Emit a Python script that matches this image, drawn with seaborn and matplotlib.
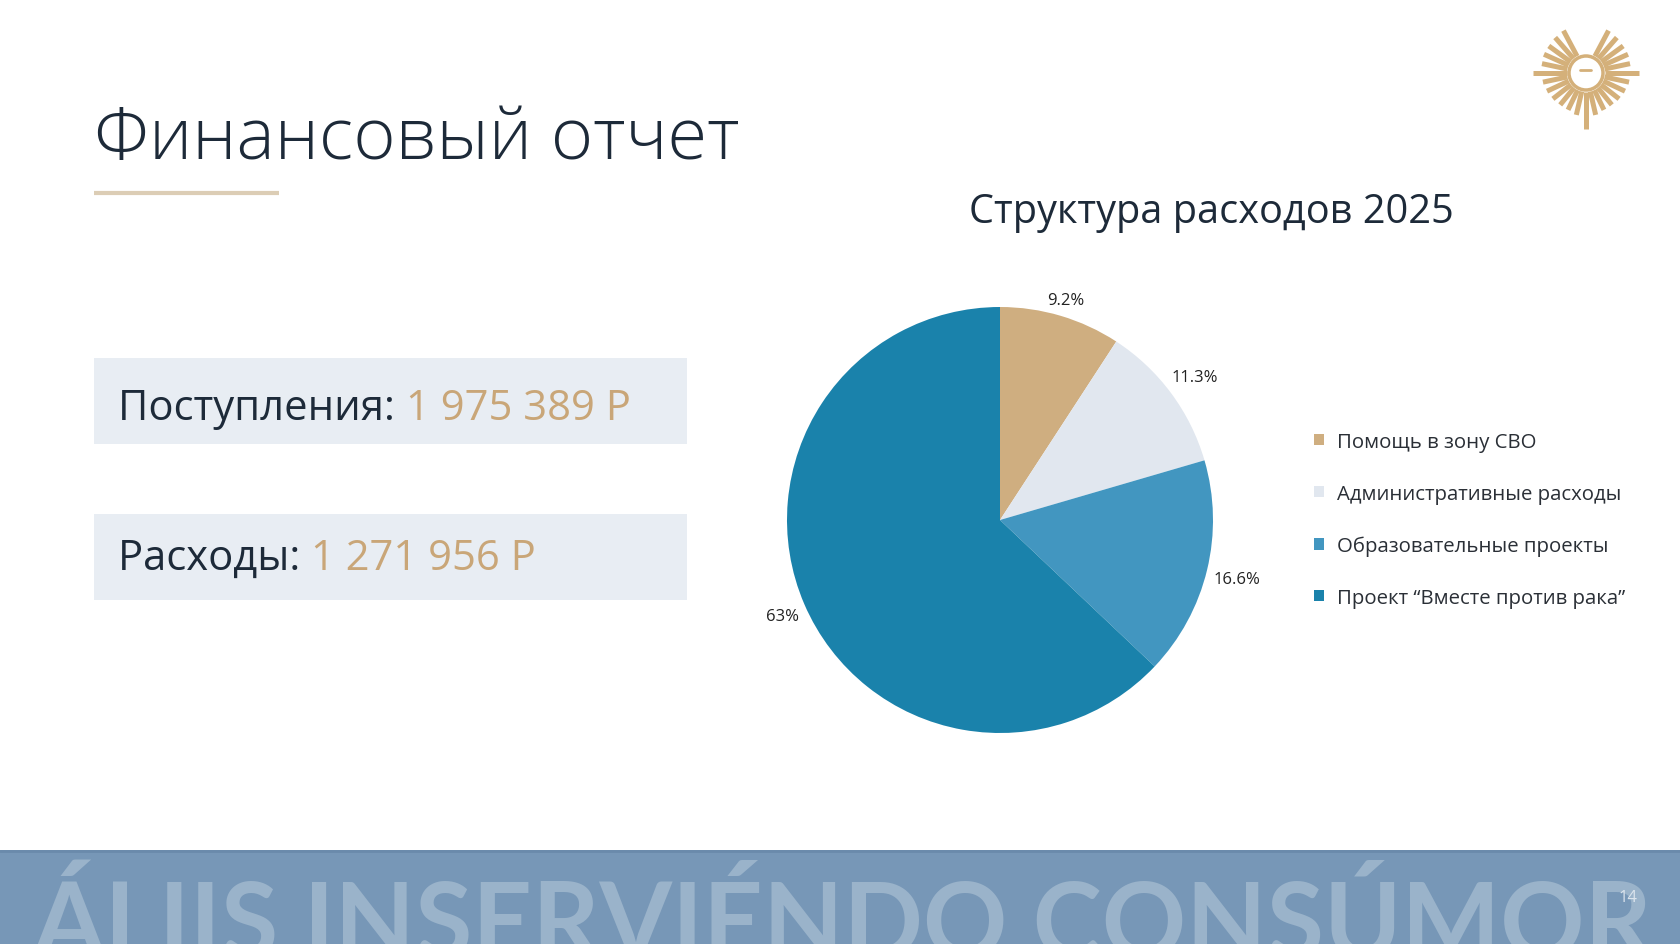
import numpy as np
import matplotlib
matplotlib.use('Agg')
import matplotlib.pyplot as plt
from matplotlib.patches import Rectangle, Patch, Circle
import seaborn as sns

# chart data
categories = ['Помощь в зону СВО', 'Административные расходы',
              'Образовательные проекты', 'Проект “Вместе против рака”']
shares = [9.2, 11.3, 16.6, 63.0]
share_labels = ['9.2%', '11.3%', '16.6%', '63%']
slice_colors = ['#cfae80', '#e1e7ef', '#4296c0', '#1a82ab']

income_label, income_value = 'Поступления:', '1 975 389 Р'
expense_label, expense_value = 'Расходы:', '1 271 956 Р'
page_title = 'Финансовый отчет'
chart_title = 'Структура расходов 2025'
motto = 'ÁLIIS INSERVIÉNDO CONSÚMOR'
page_number = '14'

W, H = 1680, 945
DARK = '#1d2a39'
GOLD = '#c9a678'

sns.set_theme(style='white')
plt.rcParams['font.family'] = ['Open Sans', 'DejaVu Sans']

fig = plt.figure(figsize=(W / 100, H / 100), dpi=100)
fig.patch.set_facecolor('white')

# full-page layer in pixel coords (y down)
bg = fig.add_axes([0, 0, 1, 1])
bg.set_xlim(0, W)
bg.set_ylim(H, 0)
bg.axis('off')

# heading + underline
bg.text(94, 159, page_title, fontsize=52, color=DARK, fontweight='light',
        va='baseline', ha='left')
bg.plot([94, 279], [194, 194], color='#dccdb5', lw=3, solid_capstyle='butt')


def put_pair(y, lab, val, size):
    a = bg.text(118, y, lab + ' ', fontsize=size, color=DARK, va='baseline',
                ha='left', fontstretch='semi-condensed')
    fig.canvas.draw()
    wa = a.get_window_extent().width
    b = bg.text(118 + wa, y, val, fontsize=size, color=GOLD, va='baseline',
                ha='left', fontstretch='semi-condensed')
    fig.canvas.draw()
    return a, b


# summary boxes (text fitted to the box width of the original)
bg.add_patch(Rectangle((94, 359), 593, 86, color='#e8edf3', lw=0))
bg.add_patch(Rectangle((94, 515), 593, 86, color='#e8edf3', lw=0))
a, b = put_pair(420, income_label, income_value, 36)
width = b.get_window_extent().x1 - a.get_window_extent().x0
size = 36 * 512 / width
a.remove()
b.remove()
put_pair(420, income_label, income_value, size)
put_pair(570, expense_label, expense_value, size)

# pie chart
R_PX = 213
ax = fig.add_axes([(1000 - 300) / W, (H - 521 - 300) / H, 600 / W, 600 / H])
wedges, texts = ax.pie(shares, labels=share_labels, colors=slice_colors,
                       startangle=90, counterclock=False, labeldistance=1.13,
                       wedgeprops=dict(linewidth=0),
                       textprops=dict(fontsize=12, color='#222222'))
ax.set_xlim(-300 / R_PX, 300 / R_PX)
ax.set_ylim(-300 / R_PX, 300 / R_PX)
ax.set_aspect('equal')
fig.canvas.draw()
gap = 6
for w, t in zip(wedges, texts):
    t.set_ha('center')
    t.set_va('center_baseline')
    mid = np.deg2rad((w.theta1 + w.theta2) / 2)
    bb = t.get_window_extent()
    d = R_PX + gap + abs(bb.width / 2 * np.cos(mid)) + abs(bb.height / 2 * np.sin(mid))
    t.set_position((d / R_PX * np.cos(mid), d / R_PX * np.sin(mid)))

bg.text(1211, 223, chart_title, fontsize=28.6, color=DARK, ha='center',
        va='baseline')

handles = [Patch(color=c, lw=0) for c in slice_colors]
fig.legend(handles, categories, loc='upper left',
           bbox_to_anchor=(1314 / W, 1 - 433 / H), frameon=False,
           fontsize=14.7, handlelength=0.47, handleheight=0.47,
           handletextpad=0.65, labelspacing=1.56, borderpad=0,
           borderaxespad=0, labelcolor='#2a2f36')

# footer band
bg.add_patch(Rectangle((0, 851), W, 94, color='#7797b7', lw=0))
bg.plot([0, W], [852, 852], color='#6a8aab', lw=2)
m = bg.text(33, 966, motto, fontsize=80, fontweight='bold', color='#9ab3ca',
            family=['Lato', 'DejaVu Sans'], ha='left', va='baseline')
fig.canvas.draw()
msize = 80 * 1623 / m.get_window_extent().width
m.set_fontsize(msize)
m.set_y(883 + 0.7165 * msize * 100 / 72)
bg.text(1628, 898, page_number, fontsize=12, color='#dbe4ed', ha='center',
        va='center')

# logo: gold sun rays
cx, cy = 1586, 74
ray_ang = [62, 49, 36, 24, 12, 0, -12, -25, -38, -51, -64, -77]
ray_len = [48, 47, 46, 46, 45, 53, 44, 43, 42, 41, 41, 43]
for a_, r in zip(ray_ang, ray_len):
    for side in (1, -1):
        th = np.deg2rad(a_ if side == 1 else 180 - a_)
        bg.plot([cx + 19 * np.cos(th), cx + r * np.cos(th)],
                [cy - 19 * np.sin(th), cy - r * np.sin(th)],
                color='#d4b07a', lw=3.6, solid_capstyle='butt')
bg.plot([cx, cx], [cy + 19, cy + 56], color='#d4b07a', lw=3.6,
        solid_capstyle='butt')
bg.add_patch(Circle((cx, cy), 17, facecolor='white', edgecolor='#d4b07a', lw=2.5))
bg.plot([cx - 6, cx + 5], [cy - 3, cy - 3], color='#d4b07a', lw=2)

fig.savefig('out.png', dpi=100)
